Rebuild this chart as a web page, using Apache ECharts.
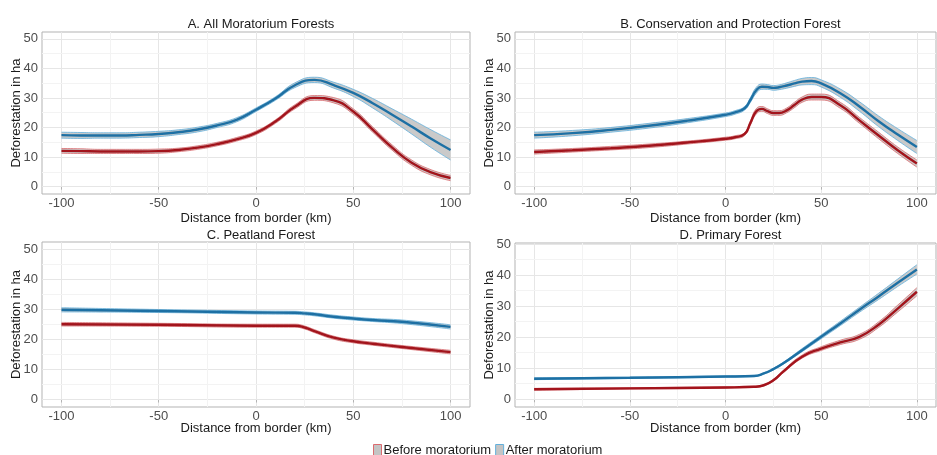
<!DOCTYPE html>
<html style="height: 100%">
<head>
    <meta charset="UTF-8">
    <script type="text/javascript" src="https://cdn.jsdelivr.net/npm/echarts@6/dist/echarts.min.js"></script>
</head>
<body style="height: 100%; margin: 0; background: #fff">
    <div id="container" style="height: 455px; width: 937px;"></div>
    <script type="text/javascript">
        // distance from border (km) and fitted deforestation (ha) with standard error, per panel
        var xA = [-100, -90, -80, -70, -60, -50, -40, -30, -20, -10, 0, 10, 20, 30, 40, 50, 60, 70, 80, 90, 100];
        var afterA = [17.4, 17.3, 17.3, 17.3, 17.5, 17.8, 18.4, 19.3, 20.7, 22.6, 26.0, 29.8, 34.3, 36.1, 34.3, 31.7, 28.2, 24.3, 20.3, 16.2, 12.4];
        var afterA_se = [1.0, 1.0, 0.9, 0.9, 0.9, 0.9, 0.8, 0.8, 0.7, 0.7, 0.6, 0.6, 0.8, 0.9, 1.0, 1.2, 1.6, 2.0, 2.5, 3.0, 3.4];
        var beforeA = [12.1, 12.0, 11.9, 11.9, 11.9, 12.0, 12.4, 13.2, 14.4, 16.0, 18.2, 22.0, 27.0, 30.0, 29.2, 25.4, 19.3, 13.2, 8.1, 4.8, 2.9];
        var beforeA_se = [0.8, 0.8, 0.7, 0.7, 0.7, 0.7, 0.6, 0.6, 0.6, 0.6, 0.6, 0.6, 0.7, 0.8, 0.9, 0.9, 0.9, 0.9, 0.9, 0.9, 0.9];

        var xB = [-100, -80, -60, -40, -20, 0, 5, 10, 13, 16, 19, 22, 25, 28, 32, 36, 40, 45, 50, 60, 70, 80, 90, 100];
        var afterB = [17.4, 18.1, 19.2, 20.6, 22.3, 24.3, 25.1, 26.5, 29.3, 32.5, 33.8, 33.7, 33.4, 33.6, 34.2, 34.9, 35.5, 35.7, 34.9, 31.6, 27.1, 22.1, 17.6, 13.4];
        var afterB_se = [1.0, 0.9, 0.8, 0.8, 0.7, 0.6, 0.6, 0.6, 0.8, 1.0, 0.9, 0.8, 0.8, 0.8, 0.9, 1.0, 1.1, 1.2, 1.2, 1.4, 1.6, 1.8, 2.0, 2.2];
        var beforeB = [11.7, 12.3, 13.0, 13.8, 14.9, 16.2, 16.7, 17.8, 21.5, 25.4, 26.3, 25.5, 24.9, 24.9, 25.8, 27.6, 29.4, 30.3, 30.3, 27.5, 22.4, 17.3, 12.3, 7.8];
        var beforeB_se = [0.7, 0.6, 0.6, 0.6, 0.5, 0.5, 0.5, 0.5, 0.7, 0.9, 0.8, 0.8, 0.8, 0.8, 0.8, 0.9, 0.9, 1.0, 1.0, 1.0, 1.0, 1.1, 1.1, 1.2];

        var xC = [-100, -50, 0, 20, 25, 30, 40, 50, 60, 75, 100];
        var afterC = [29.9, 29.5, 29.0, 28.9, 28.7, 28.4, 27.6, 27.0, 26.5, 25.9, 24.2];
        var afterC_se = [0.7, 0.5, 0.5, 0.5, 0.5, 0.5, 0.5, 0.5, 0.5, 0.6, 0.7];
        var beforeC = [25.1, 24.9, 24.6, 24.6, 24.0, 22.8, 20.6, 19.4, 18.6, 17.5, 15.8];
        var beforeC_se = [0.6, 0.5, 0.5, 0.5, 0.5, 0.5, 0.5, 0.5, 0.5, 0.5, 0.6];

        var xD = [-100, -50, 0, 15, 20, 25, 30, 40, 50, 60, 70, 80, 90, 100];
        var afterD = [6.6, 6.9, 7.3, 7.5, 8.3, 9.7, 11.5, 15.8, 20.1, 24.4, 28.8, 33.1, 37.5, 41.8];
        var afterD_se = [0.3, 0.2, 0.2, 0.2, 0.2, 0.3, 0.3, 0.5, 0.6, 0.7, 0.8, 1.0, 1.2, 1.5];
        var beforeD = [3.2, 3.5, 3.8, 4.0, 4.5, 6.1, 8.8, 13.7, 16.3, 18.3, 20.1, 24.0, 29.2, 34.6];
        var beforeD_se = [0.3, 0.2, 0.2, 0.2, 0.2, 0.3, 0.4, 0.5, 0.6, 0.7, 0.8, 0.9, 1.1, 1.3];

        var titles = ['A. All Moratorium Forests', 'B. Conservation and Protection Forest', 'C. Peatland Forest', 'D. Primary Forest'];
        var xTicks = [-100, -50, 0, 50, 100];
        var xMinor = [-75, -25, 25, 75];
        var yTicks = [0, 10, 20, 30, 40, 50];
        var yMinor = [5, 15, 25, 35, 45];

        var panels = [
            {x: xA, before: beforeA, beforeSe: beforeA_se, after: afterA, afterSe: afterA_se},
            {x: xB, before: beforeB, beforeSe: beforeB_se, after: afterB, afterSe: afterB_se},
            {x: xC, before: beforeC, beforeSe: beforeC_se, after: afterC, afterSe: afterC_se},
            {x: xD, before: beforeD, beforeSe: beforeD_se, after: afterD, afterSe: afterD_se}
        ];

        var FONT = 'Liberation Sans';
        var RED = '#a3141c', RED_EDGE = '#dc6b6f';
        var BLUE = '#1d70a4', BLUE_EDGE = '#62b0dc';
        var BAND = '#bdbdbd';

        var grids = [
            {left: 42, top: 32, width: 428, height: 162},
            {left: 515, top: 32, width: 421, height: 162},
            {left: 42, top: 242, width: 428, height: 165},
            {left: 515, top: 243, width: 421, height: 164}
        ];
        var yMax = [52.3, 52.3, 52.5, 50.3];

        // [y, x] rows so that the stack is applied to the y values
        function yxPairs(xs, f) {
            return xs.map(function (x, i) { return [f(i), x]; });
        }
        function pairs(xs, f) {
            return xs.map(function (x, i) { return [x, f(i)]; });
        }

        var option = {
            backgroundColor: '#fff',
            animation: false,
            title: [],
            grid: [],
            xAxis: [],
            yAxis: [],
            series: [],
            legend: {
                left: 368,
                top: 439,
                itemWidth: 8,
                itemHeight: 12,
                itemGap: 4,
                textStyle: {fontFamily: FONT, fontSize: 13, color: '#1a1a1a', padding: [0, 0, 0, -3]},
                data: [
                    {name: 'Before moratorium', icon: 'rect', itemStyle: {color: '#c4c4c4', borderColor: RED_EDGE, borderWidth: 1}},
                    {name: 'After moratorium', icon: 'rect', itemStyle: {color: '#c4c4c4', borderColor: BLUE_EDGE, borderWidth: 1}}
                ]
            }
        };

        grids.forEach(function (g, k) {
            option.grid.push({
                left: g.left, top: g.top, width: g.width, height: g.height,
                show: true, borderColor: '#b3b3b3', borderWidth: 1, backgroundColor: '#fff'
            });
            option.title.push({
                text: titles[k],
                left: g.left + g.width / 2,
                top: k < 2 ? 13 : 224,
                textAlign: 'center',
                textStyle: {fontFamily: FONT, fontSize: 13, fontWeight: 'normal', color: '#1a1a1a'}
            });
            option.xAxis.push({
                gridIndex: k,
                type: 'value',
                min: -110, max: 110,
                splitNumber: 4,
                name: 'Distance from border (km)',
                nameLocation: 'middle',
                nameGap: k < 2 ? 18 : 15,
                nameMoveOverlap: false,
                nameTextStyle: {fontFamily: FONT, fontSize: 13, color: '#1a1a1a'},
                axisLine: {show: false},
                axisTick: {show: true, length: 3, customValues: xTicks, lineStyle: {color: '#b3b3b3'}},
                axisLabel: {customValues: xTicks, margin: 3, fontFamily: FONT, fontSize: 13, color: '#4d4d4d'},
                splitLine: {show: true, lineStyle: {color: '#e6e6e6', width: 1}}
            });
            option.yAxis.push({
                gridIndex: k,
                type: 'value',
                min: -2.5, max: yMax[k],
                name: 'Deforestation in ha',
                nameLocation: 'middle',
                nameGap: 19,
                nameMoveOverlap: false,
                nameTextStyle: {fontFamily: FONT, fontSize: 13, color: '#1a1a1a'},
                axisLine: {show: false},
                axisTick: {show: true, length: 3, customValues: yTicks, lineStyle: {color: '#b3b3b3'}},
                axisLabel: {customValues: yTicks, margin: 4, fontFamily: FONT, fontSize: 13, color: '#4d4d4d'},
                splitLine: {show: false}
            });

            // major y grid and minor grid lines, drawn under the data
            option.series.push({
                type: 'line', xAxisIndex: k, yAxisIndex: k, data: [], silent: true,
                markLine: {
                    silent: true, symbol: 'none', z: 1, animation: false,
                    label: {show: false},
                    data: yTicks.map(function (v) { return {yAxis: v, lineStyle: {color: '#e6e6e6', width: 1, type: 'solid'}}; })
                        .concat(xMinor.map(function (v) { return {xAxis: v, lineStyle: {color: '#f3f3f3', width: 1, type: 'solid'}}; }))
                        .concat(yMinor.map(function (v) { return {yAxis: v, lineStyle: {color: '#f3f3f3', width: 1, type: 'solid'}}; }))
                }
            });

            var p = panels[k];
            [['before', RED, RED_EDGE, 'Before moratorium'], ['after', BLUE, BLUE_EDGE, 'After moratorium']].forEach(function (s) {
                var mid = p[s[0]], se = p[s[0] + 'Se'];
                var stackName = 'band' + k + s[0];
                option.series.push({
                    type: 'line', xAxisIndex: k, yAxisIndex: k, stack: stackName,
                    name: s[0] + 'lo' + k, smooth: 0.5, symbol: 'none', silent: true, z: 2,
                    encode: {x: 1, y: 0},
                    lineStyle: {color: s[2], width: 0.8},
                    data: yxPairs(p.x, function (i) { return mid[i] - se[i]; })
                });
                option.series.push({
                    type: 'line', xAxisIndex: k, yAxisIndex: k, stack: stackName,
                    name: s[0] + 'hi' + k, smooth: 0.5, symbol: 'none', silent: true, z: 2,
                    encode: {x: 1, y: 0},
                    lineStyle: {color: s[2], width: 0.8},
                    areaStyle: {color: BAND, opacity: 0.8},
                    data: yxPairs(p.x, function (i) { return 2 * se[i]; })
                });
                option.series.push({
                    type: 'line', xAxisIndex: k, yAxisIndex: k,
                    name: s[3], smooth: 0.5, symbol: 'none', z: 3,
                    lineStyle: {color: s[1], width: 2.4},
                    itemStyle: {color: s[1]},
                    data: pairs(p.x, function (i) { return mid[i]; })
                });
            });
        });

        var dom = document.getElementById("container");
        var myChart = echarts.init(dom);
        myChart.setOption(option, true);
    </script>
</body>
</html>
